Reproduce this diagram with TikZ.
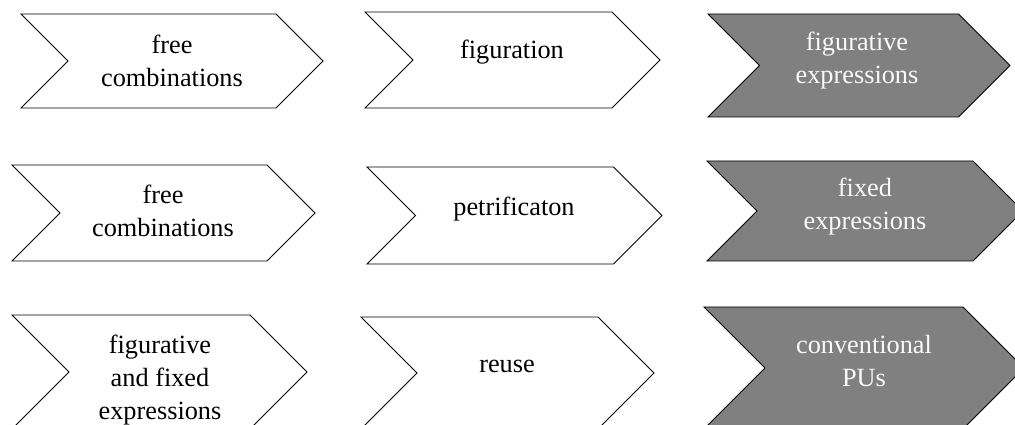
\documentclass[tikz,border=0pt]{standalone}
\usepackage{fontspec}
\setmainfont{Liberation Serif}
\tikzset{
  chev/.style={draw=black, line width=0.6pt, fill=white},
  chevdark/.style={chev, fill=gray},
  lbl/.style={align=center, font=\fontsize{18.7}{23.5}\selectfont},
  lbldark/.style={lbl, text=white!95!gray}
}

\begin{document}
\begin{tikzpicture}[x=0.025cm, y=-0.025cm]
    \useasboundingbox (0,0) rectangle (1015,425);
    \clip (0,0) rectangle (1015,425);

    % first row
    \draw [chev] (21,14) -- (276,14) -- (323,61) -- (276,108) -- (21,108) -- (68,61) -- cycle;
    \node [lbl] (free1) at (172,61) {free\\combinations};
    \draw [chev] (365,12) -- (612,12) -- (660,60) -- (612,108) -- (365,108) -- (413,60) -- cycle;
    \node [lbl] (figuration) at (512,52) {figuration};
    \draw [chevdark] (708,14) -- (958.5,14) -- (1010,65.5) -- (958.5,117) -- (708,117) -- (759.5,65.5) -- cycle;
    \node [lbldark] (figurative) at (857,61) {figurative\\expressions};

    % second row
    \draw [chev] (12,165) -- (267,165) -- (315,213) -- (267,261) -- (12,261) -- (60,213) -- cycle;
    \node [lbl] (free2) at (163,211) {free\\combinations};
    \draw [chev] (367,167) -- (613.5,167) -- (662,215.5) -- (613.5,264) -- (367,264) -- (415.5,215.5) -- cycle;
    \node [lbl] (petrification) at (514,209) {petrificaton};
    \draw [chevdark] (707,161) -- (973,161) -- (1023,211) -- (973,261) -- (707,261) -- (757,211) -- cycle;
    \node [lbldark] (fixed) at (865,207) {fixed\\expressions};

    % third row
    \draw [chev] (12,315) -- (250,315) -- (307,372) -- (250,429) -- (12,429) -- (69,372) -- cycle;
    \node [lbl] (figfixed) at (160,380) {figurative\\and fixed\\expressions};
    \draw [chev] (361,317) -- (598,317) -- (654,373) -- (598,429) -- (361,429) -- (417,373) -- cycle;
    \node [lbl] (reuse) at (507,366) {reuse};
    \draw [chevdark] (704,307) -- (963,307) -- (1024,368) -- (963,429) -- (704,429) -- (765,368) -- cycle;
    \node [lbldark] (conventional) at (864,361) {conventional\\PUs};
\end{tikzpicture}
\end{document}
